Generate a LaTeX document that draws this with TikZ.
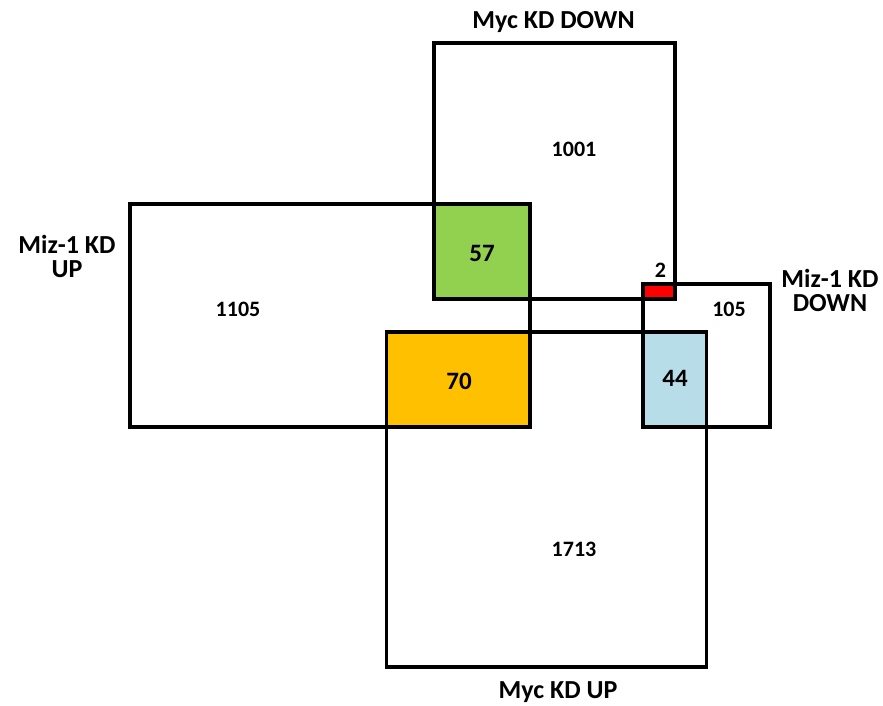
\documentclass[tikz,border=0pt]{standalone}
\usepackage{fontspec}
\setmainfont{Carlito}
\definecolor{bothgreen}{HTML}{92D050}
\definecolor{bothorange}{HTML}{FFC000}
\definecolor{bothblue}{HTML}{B7DEE8}
\definecolor{bothred}{HTML}{FF0000}
\begin{document}
\begin{tikzpicture}[x=1pt,y=-1pt,
    setbox/.style={line width=3.6pt},
    setname/.style={font=\fontsize{26}{24}\selectfont\bfseries, align=center},
    count/.style={font=\fontsize{22}{24}\selectfont\bfseries},
    bigcount/.style={font=\fontsize{25}{27}\selectfont\bfseries}]
            \useasboundingbox (0,0) rectangle (883,706);
            % overlaps
            \fill[bothgreen] (434,204) rectangle (530,299);
            \fill[bothorange] (386.5,332) rectangle (530,427);
            \fill[bothblue] (643,332) rectangle (706.5,427);
            \fill[bothred] (643,284) rectangle (675,299);
            % the four sets
            \draw[setbox] (434,43) rectangle (675,299);
            \draw[setbox] (130,204) rectangle (530,427);
            \draw[setbox] (386.5,332) rectangle (706.5,667);
            \draw[setbox] (643,284) rectangle (770,427);
            \node[setname] (mycdown) at (553.5,22) {Myc KD DOWN};
            \node[setname] (mizup) at (67,256) {Miz-1 KD\\UP};
            \node[setname] (mizdown) at (830,290) {Miz-1 KD\\DOWN};
            \node[setname, inner sep=0pt] (mycup) at (558,692) {Myc KD UP};
            \node[count] (nmycdown) at (574,149) {1001};
            \node[count] (nmizup) at (238,309) {1105};
            \node[count] (nmizdown) at (729,309) {105};
            \node[count] (nmycup) at (574,549) {1713};
            \node[count] (nred) at (660.5,270) {2};
            \node[bigcount] (ngreen) at (482,253) {57};
            \node[bigcount] (norange) at (459,381) {70};
            \node[bigcount] (nblue) at (675,378) {44};
        \end{tikzpicture}
\end{document}
